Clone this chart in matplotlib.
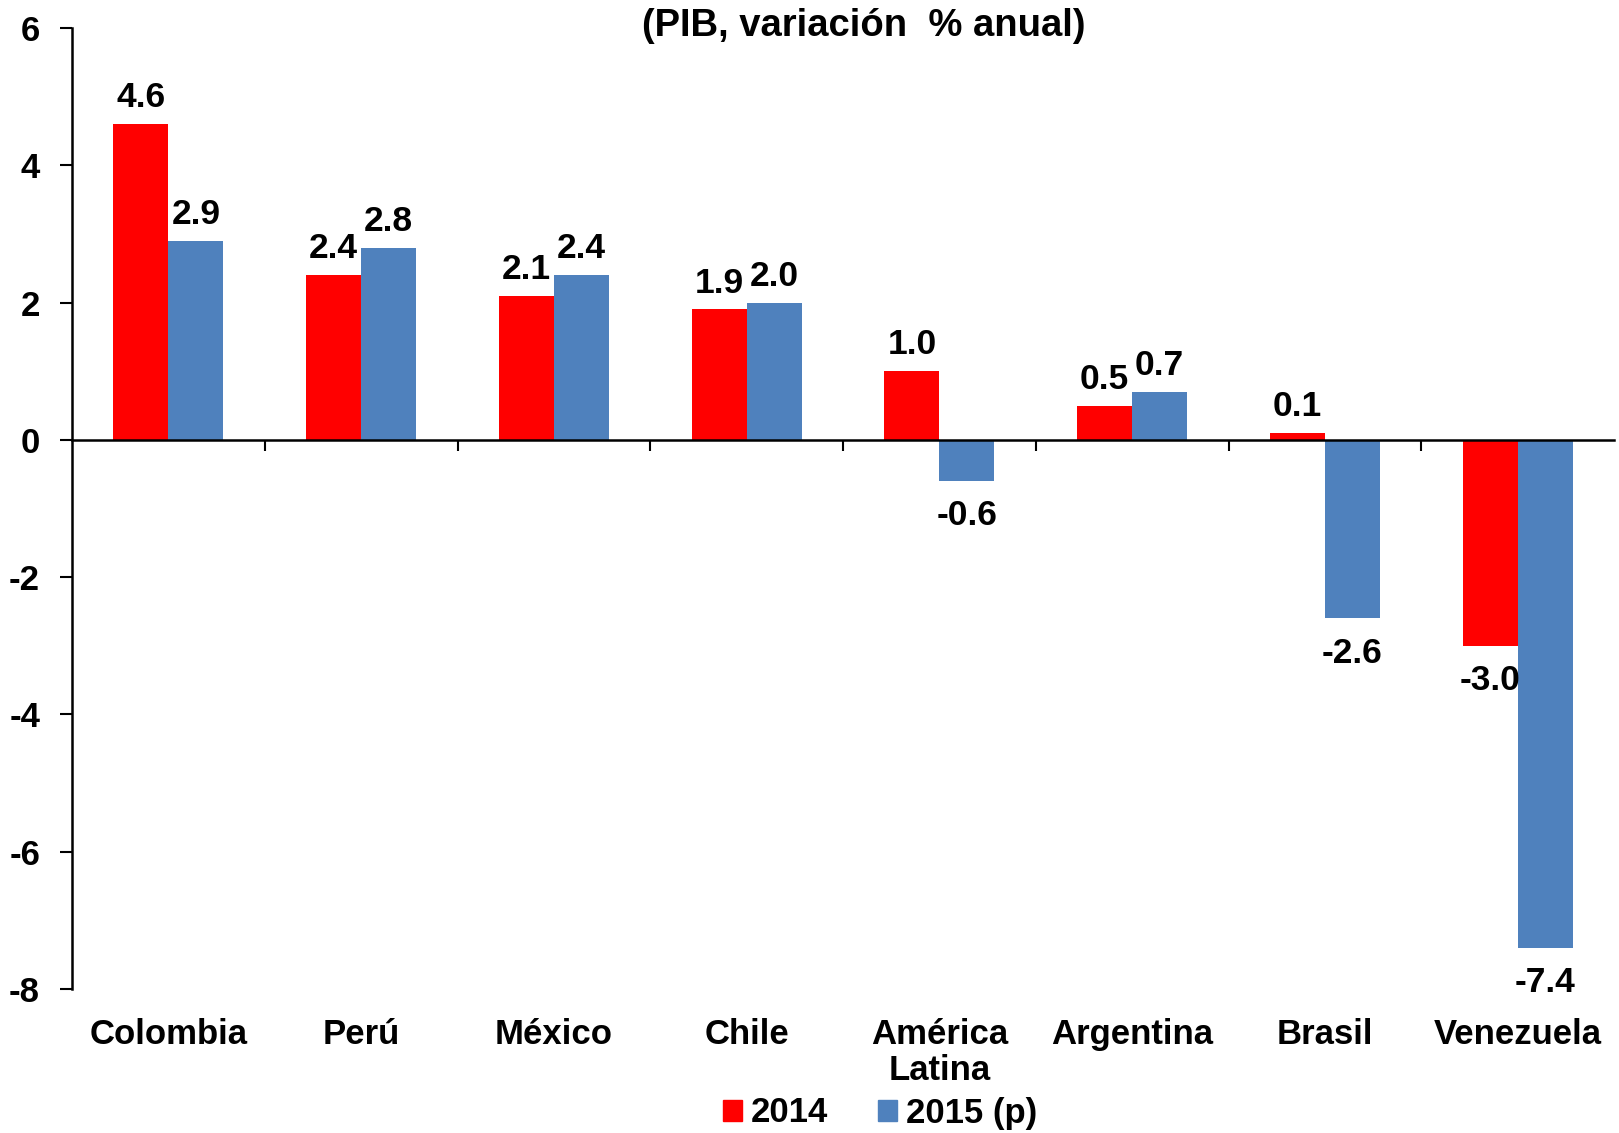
import matplotlib
matplotlib.use("Agg")
import matplotlib.pyplot as plt
import matplotlib.transforms as mtransforms
from matplotlib.patches import Patch
import numpy as np

categories = ["Colombia", "Perú", "México", "Chile", "América\nLatina", "Argentina", "Brasil", "Venezuela"]
series_names = ["2014", "2015 (p)"]
values_2014 = [4.6, 2.4, 2.1, 1.9, 1.0, 0.5, 0.1, -3.0]
values_2015 = [2.9, 2.8, 2.4, 2.0, -0.6, 0.7, -2.6, -7.4]
yticks = [6, 4, 2, 0, -2, -4, -6, -8]
title = "(PIB, variación  % anual)"

colors = ["#FF0000", "#4F81BD"]
plt.rcParams['font.family'] = ['Liberation Sans', 'DejaVu Sans']
plt.rcParams['font.weight'] = 'bold'
FS = 25

fig = plt.figure(figsize=(16.19, 11.33), dpi=100)
ax = fig.add_axes([72/1619, 1-989/1133, (1614-72)/1619, (989-28)/1133])

n = len(categories)
x = np.arange(n)
w = 0.285
b1 = ax.bar(x - w/2, values_2014, w, color=colors[0], label=series_names[0])
b2 = ax.bar(x + w/2, values_2015, w, color=colors[1], label=series_names[1])

for bars, vals in ((b1, values_2014), (b2, values_2015)):
    for rect, v in zip(bars, vals):
        cx = rect.get_x() + rect.get_width()/2
        off = 19 if v >= 0 else -25
        ax.annotate(f"{v:.1f}", (cx, v), xytext=(0, off), textcoords="offset points",
                    ha="center", va="center", fontsize=FS + 0.5, fontweight="bold")

ax.set_xlim(-0.5, n - 0.5)
ax.set_ylim(-8, 6)
ax.set_yticks(yticks)
ax.set_yticklabels([str(t) for t in yticks], fontsize=FS, fontweight="bold")
ax.tick_params(axis='y', direction='out', length=9, width=1.5, pad=14)

ax.spines['top'].set_visible(False)
ax.spines['right'].set_visible(False)
ax.spines['left'].set_linewidth(1.8)
ax.spines['bottom'].set_position(('data', 0))
ax.spines['bottom'].set_linewidth(1.8)
ax.set_xticks(np.arange(0.5, n - 0.5, 1.0))
ax.set_xticklabels([])
ax.tick_params(axis='x', direction='out', length=8, width=1.5)

trans = mtransforms.blended_transform_factory(ax.transData, fig.transFigure)
for i, c in enumerate(categories):
    ax.text(i, 1 - 1018/1133, c, transform=trans, ha="center", va="top",
            fontsize=FS, fontweight="bold", linespacing=1.1)

fig.text(864/1619, 1 - 26/1133, title, ha="center", va="center", fontsize=27.5, fontweight="bold")

handles = [Patch(color=colors[0]), Patch(color=colors[1])]
fig.legend(handles, series_names, loc="center", bbox_to_anchor=(880/1619, 1 - 1113/1133),
           ncol=2, frameon=False, prop={'weight': 'bold', 'size': FS},
           handlelength=0.55, handleheight=0.55, handletextpad=0.25, columnspacing=1.45)

fig.savefig("out.png", dpi=100)
